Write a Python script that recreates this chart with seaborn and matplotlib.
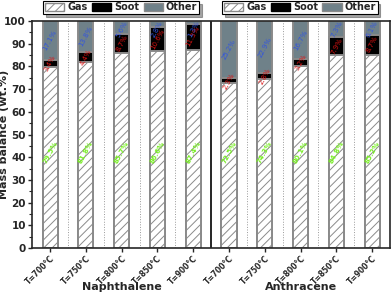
import numpy as np
import pandas as pd
import matplotlib
matplotlib.use("Agg")
import matplotlib.pyplot as plt
import matplotlib.transforms as mtransforms
from matplotlib.patches import Patch
import seaborn as sns

temps = ["T=700°C", "T=750°C", "T=800°C", "T=850°C", "T=900°C"]
feeds = ["Naphthalene", "Anthracene"]
gas = [79.5, 81.8, 85.7, 86.6, 87.4, 72.5, 74.3, 80.1, 84.8, 85.2]
soot = [3.4, 4.4, 8.7, 10.6, 11.3, 2.3, 2.8, 3.2, 7.9, 8.7]
other = [17.1, 13.8, 5.6, 2.8, 1.3, 25.2, 22.9, 16.7, 7.3, 6.1]

df = pd.DataFrame({
    "key": [f"{f}|{t}" for f in feeds for t in temps],
    "gas": gas, "soot": soot, "other": other,
})
df["gas_soot"] = df["gas"] + df["soot"]
df["total"] = df["gas_soot"] + df["other"]
order = list(df["key"])

sns.set_style("ticks")
plt.rcParams["font.family"] = ["DejaVu Sans"]
plt.rcParams["hatch.linewidth"] = 0.7
plt.rcParams["hatch.color"] = "#8a8a8a"

fig = plt.figure(figsize=(3.92, 2.94), dpi=100)
ax = fig.add_axes([0.082, 0.156, 0.913, 0.773])

c_other = "#6f8189"
edge = "#8a8a8a"
w = 0.42
sns.barplot(data=df, x="key", y="total", order=order, color=c_other, width=w,
            edgecolor=edge, linewidth=1.4, saturation=1, ax=ax)
sns.barplot(data=df, x="key", y="gas_soot", order=order, color="black", width=w,
            edgecolor=edge, linewidth=1.4, saturation=1, ax=ax)
sns.barplot(data=df, x="key", y="gas", order=order, color="white", width=w,
            edgecolor=edge, linewidth=1.4, saturation=1, hatch="////", ax=ax)

for i, row in df.iterrows():
    ax.text(i, 42, f"{row['gas']}%", color="#77ee22", fontsize=5, fontweight="bold",
            rotation=62, ha="center", va="center")
    ax.text(i, row["gas"] + row["soot"] / 2, f"{row['soot']}%", color="#dd1111",
            fontsize=5, rotation=62, ha="center", va="center")
    ax.text(i, min(row["gas_soot"] + row["other"] / 2, 96.5), f"{row['other']}%",
            color="#3355dd", fontsize=5, rotation=62, ha="center", va="center")

for xv in [0.5, 1.5, 2.5, 3.5, 5.5, 6.5, 7.5, 8.5]:
    ax.axvline(xv, color="#999999", ls=":", lw=0.7)
ax.axvline(4.5, color="black", lw=1.2)

ax.set_xlim(-0.5, 9.5)
ax.set_ylim(0, 100)
ax.set_yticks(range(0, 101, 10))
ax.set_yticks(range(5, 100, 10), minor=True)
ax.set_xticks(range(10))
ax.set_xticklabels(temps * 2, rotation=45, ha="right", rotation_mode="anchor",
                   fontsize=5.5, fontweight="bold")
shift = mtransforms.ScaledTranslation(0.08, 0, fig.dpi_scale_trans)
for lab in ax.get_xticklabels():
    lab.set_transform(lab.get_transform() + shift)
for lab in ax.get_yticklabels():
    lab.set_fontweight("bold")
    lab.set_fontsize(7.5)
ax.tick_params(axis="both", length=3, width=1, pad=1.5)
ax.tick_params(axis="y", which="minor", length=2, width=0.8)
ax.set_xlabel("")
ax.set_ylabel("Mass balance (wt.%)", fontsize=8, fontweight="bold")
ax.yaxis.set_label_coords(-0.066, 0.5)
for s in ax.spines.values():
    s.set_linewidth(1.2)
    s.set_visible(True)

trans = ax.get_xaxis_transform()
for k, name in enumerate(feeds):
    ax.text(2 + 5 * k, -0.172, name, transform=trans, ha="center", va="center",
            fontsize=8, fontweight="bold")

def make_handles():
    return [
        Patch(facecolor="white", edgecolor=edge, hatch="////", label="Gas"),
        Patch(facecolor="black", edgecolor="black", label="Soot"),
        Patch(facecolor=c_other, edgecolor=edge, label="Other"),
    ]

for cx in [0.309, 0.765]:
    leg = fig.legend(handles=make_handles(), loc="upper center",
                     bbox_to_anchor=(cx, 1.0), ncol=3, fancybox=False, shadow=True,
                     frameon=True, prop={"weight": "bold", "size": 7},
                     handlelength=2.0, handleheight=0.8, handletextpad=0.3,
                     columnspacing=0.45, borderpad=0.15, borderaxespad=0.1)
    leg.get_frame().set_edgecolor("black")
    leg.get_frame().set_linewidth(0.8)

fig.savefig("out.png", dpi=100)
